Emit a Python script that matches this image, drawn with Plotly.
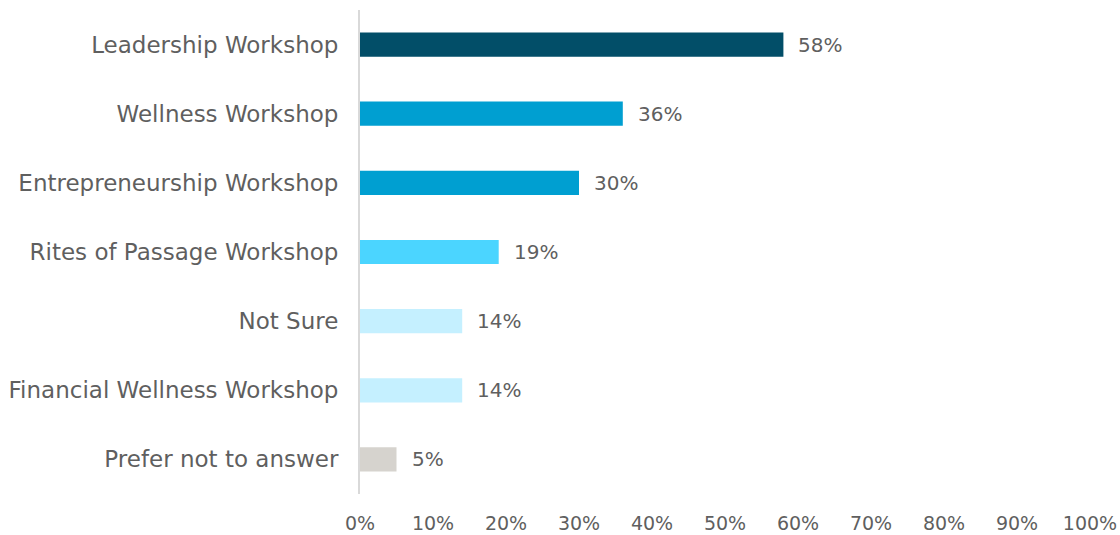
import plotly.graph_objects as go

categories = ["Leadership Workshop", "Wellness Workshop", "Entrepreneurship Workshop",
              "Rites of Passage Workshop", "Not Sure", "Financial Wellness Workshop",
              "Prefer not to answer"]
values = [58, 36, 30, 19, 14, 14, 5]
colors = ["#024E68", "#009FD1", "#009FD1", "#4BD5FF", "#C5F0FF", "#C5F0FF", "#D6D3CE"]
tick_vals = [0, 10, 20, 30, 40, 50, 60, 70, 80, 90, 100]
tick_text = [f"{v}%" for v in tick_vals]

font_family = "DejaVu Sans"
text_color = "#5f5f5f"

fig = go.Figure(go.Bar(
    y=categories, x=values, orientation="h",
    marker=dict(color=colors, line=dict(width=0)),
    width=0.35, hoverinfo="skip",
))

for c, v in zip(categories, values):
    fig.add_annotation(x=v, y=c, text=f"{v}%", showarrow=False, xanchor="left",
                       xshift=13, font=dict(family=font_family, size=20, color=text_color))

fig.update_layout(
    width=1120, height=535,
    margin=dict(l=360, r=30, t=10, b=41),
    paper_bgcolor="white", plot_bgcolor="white",
    showlegend=False,
    font=dict(family=font_family, size=20, color=text_color),
    xaxis=dict(range=[0, 100], tickvals=tick_vals, ticktext=tick_text,
               showgrid=False, zeroline=False, showline=False, automargin=False,
               ticks="outside", ticklen=12, tickcolor="rgba(0,0,0,0)",
               tickfont=dict(family=font_family, size=19, color=text_color)),
    yaxis=dict(autorange="reversed", showgrid=False, zeroline=False, automargin=False,
               showline=True, linecolor="#D9D9D9", linewidth=2,
               ticks="outside", ticklen=15, tickcolor="rgba(0,0,0,0)",
               tickfont=dict(family=font_family, size=23, color=text_color)),
)

fig.write_html("out.html", config={"displayModeBar": False},
               post_script="document.body.style.margin='0';document.body.style.overflow='hidden';")
